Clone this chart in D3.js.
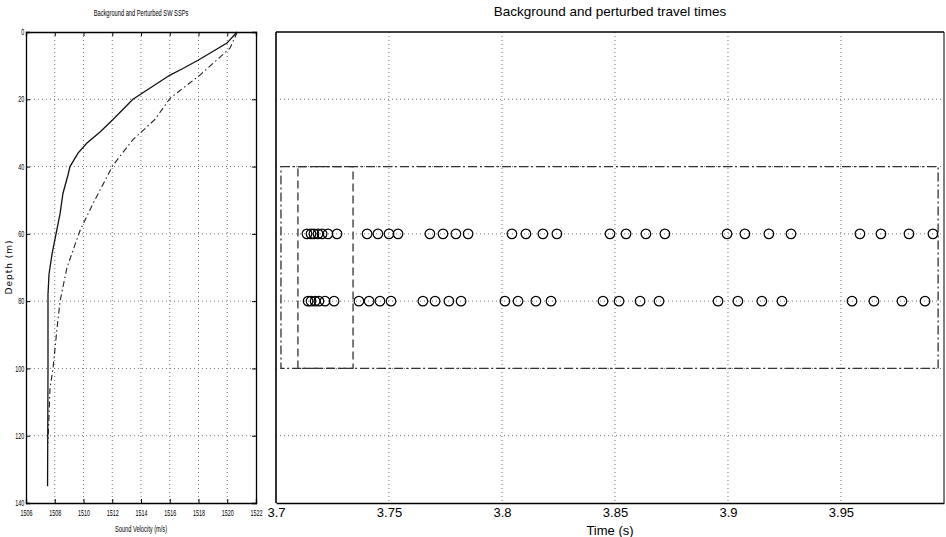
<!DOCTYPE html>
<html>
<head>
<meta charset="utf-8">
<script src="https://cdn.jsdelivr.net/npm/d3@7"></script>
<style>
body { margin: 0; background: #fff; }
svg { display: block; }
</style>
</head>
<body>
<script>
// sound speed profiles (depth m, velocity m/s)
const bgDepth = [0, 3.3, 8.4, 11, 12.8, 20, 26, 29.7, 33, 36, 40, 42.5, 48, 54, 60, 66, 72, 78, 100, 135];
const bgSpeed = [1520.68, 1519.98, 1517.97, 1516.85, 1516.02, 1513.44, 1512.05, 1511.15, 1510.24, 1509.62,
  1509.06, 1508.92, 1508.57, 1508.37, 1508.09, 1507.81, 1507.6, 1507.53, 1507.53, 1507.5];
const ptDepth = [0, 4.8, 12.8, 19.7, 26, 32, 39.6, 51, 59, 70, 80, 88, 100, 106, 122];
const ptSpeed = [1520.7, 1520.19, 1518.1, 1516.02, 1514.97, 1513.44, 1512.05, 1510.66, 1509.76, 1508.85,
  1508.37, 1508.16, 1507.88, 1507.67, 1507.53];

// travel times at the two receiver depths
const rxDepths = [60, 80];
const times60 = [3.7137, 3.7155, 3.7168, 3.7186, 3.7204, 3.7230, 3.7270,
  3.7403, 3.7451, 3.7500, 3.7540,
  3.7681, 3.7739, 3.7796, 3.7850,
  3.8044, 3.8106, 3.8181, 3.8243,
  3.8478, 3.8549, 3.8637, 3.8721,
  3.8996, 3.9075, 3.9181, 3.9279,
  3.9584, 3.9677, 3.9801, 3.9907];
const times80 = [3.7142, 3.7155, 3.7173, 3.7190, 3.7217, 3.7257,
  3.7367, 3.7412, 3.7460, 3.7509,
  3.7650, 3.7704, 3.7765, 3.7819,
  3.8013, 3.8071, 3.8150, 3.8217,
  3.8447, 3.8518, 3.8611, 3.8695,
  3.8956, 3.9044, 3.9150, 3.9239,
  3.9549, 3.9646, 3.9770, 3.9872];

// selection windows
const outerBox = {t: [3.7022, 3.993], z: [40, 100]};
const innerBox = {t: [3.7097, 3.7341], z: [40, 100]};

const velTicks = [1506, 1508, 1510, 1512, 1514, 1516, 1518, 1520, 1522];
const depthTicks = [0, 20, 40, 60, 80, 100, 120, 140];
const timeTicks = [3.7, 3.75, 3.8, 3.85, 3.9, 3.95];

const svg = d3.select("body").append("svg").attr("width", 946).attr("height", 537);

const xL = d3.scaleLinear().domain([1506, 1522]).range([26, 256]);
const yL = d3.scaleLinear().domain([0, 140]).range([32, 503]);
const xR = d3.scaleLinear().domain([3.7, 3.9956]).range([276, 944]);
const yR = d3.scaleLinear().domain([0, 140]).range([32, 503]);

const squeeze = "scale(0.6,1)";
const grid = "#777";

// ---------- left panel ----------
const L = svg.append("g");

L.selectAll(".vg").data(velTicks.slice(1, -1)).enter().append("line")
    .attr("x1", d => xL(d)).attr("x2", d => xL(d))
    .attr("y1", yL(0)).attr("y2", yL(140))
    .style("stroke", grid).style("stroke-width", 1).style("stroke-dasharray", "1,3");
L.selectAll(".hg").data(depthTicks.slice(1, -1)).enter().append("line")
    .attr("x1", xL(1506)).attr("x2", xL(1522))
    .attr("y1", d => yL(d)).attr("y2", d => yL(d))
    .style("stroke", grid).style("stroke-width", 1).style("stroke-dasharray", "1,3");

const line = d3.line().x(d => xL(d[1])).y(d => yL(d[0]));
L.append("path").datum(d3.zip(bgDepth, bgSpeed)).attr("d", line)
    .style("fill", "none").style("stroke", "#111").style("stroke-width", 1.3);
L.append("path").datum(d3.zip(ptDepth, ptSpeed)).attr("d", line)
    .style("fill", "none").style("stroke", "#222").style("stroke-width", 1.1)
    .style("stroke-dasharray", "6,3,1.5,3");

const axL = L.append("g").attr("transform", "translate(0," + yL(140) + ")")
    .call(d3.axisBottom(xL).tickValues(velTicks).tickSize(-4).tickPadding(7).tickFormat(d3.format("d")));
const ayL = L.append("g").attr("transform", "translate(" + xL(1506) + ",0)")
    .call(d3.axisLeft(yL).tickValues(depthTicks).tickSize(-4).tickPadding(3).tickFormat(d3.format("d")));
L.append("g").attr("transform", "translate(0," + yL(0) + ")")
    .call(d3.axisTop(xL).tickValues(velTicks).tickSize(-4).tickFormat(""));
L.append("g").attr("transform", "translate(" + xL(1522) + ",0)")
    .call(d3.axisRight(yL).tickValues(depthTicks).tickSize(-4).tickFormat(""));
[axL, ayL].forEach(a => a.selectAll("text")
    .style("font-family", "Liberation Sans, Arial, sans-serif").style("font-size", "9px")
    .style("fill", "#000").attr("transform", squeeze));
ayL.selectAll("text").attr("dy", "0.3em");
L.selectAll(".domain").style("stroke", "#000").style("stroke-width", 1.3);
L.selectAll(".tick line").style("stroke", "#000");

L.append("text").attr("transform", "translate(141,16) " + squeeze)
    .attr("text-anchor", "middle").style("font-family", "Liberation Sans, Arial, sans-serif")
    .style("font-size", "9.5px").text("Background and Perturbed SW SSPs");
L.append("text").attr("transform", "translate(141,532) " + squeeze)
    .attr("text-anchor", "middle").style("font-family", "Liberation Sans, Arial, sans-serif")
    .style("font-size", "9.5px").text("Sound Velocity (m/s)");
L.append("text").attr("transform", "translate(12,267) rotate(-90)")
    .attr("text-anchor", "middle").style("font-family", "DejaVu Sans, sans-serif")
    .style("font-size", "9px").style("letter-spacing", "1px").text("Depth (m)");

// ---------- right panel ----------
const R = svg.append("g");

R.selectAll(".vg").data(timeTicks.slice(1)).enter().append("line")
    .attr("x1", d => xR(d)).attr("x2", d => xR(d))
    .attr("y1", yR(0)).attr("y2", yR(140))
    .style("stroke", grid).style("stroke-width", 1).style("stroke-dasharray", "1,3");
R.selectAll(".hg").data(depthTicks.slice(1, -1)).enter().append("line")
    .attr("x1", xR(3.7)).attr("x2", xR(3.9956))
    .attr("y1", d => yR(d)).attr("y2", d => yR(d))
    .style("stroke", grid).style("stroke-width", 1).style("stroke-dasharray", "1,3");

function box(b, dash) {
  R.append("rect")
      .attr("x", xR(b.t[0])).attr("y", yR(b.z[0]))
      .attr("width", xR(b.t[1]) - xR(b.t[0])).attr("height", yR(b.z[1]) - yR(b.z[0]))
      .style("fill", "none").style("stroke", "#333").style("stroke-width", 1.3)
      .style("stroke-dasharray", dash);
}
box(outerBox, "9,3,2,3");
box(innerBox, "8,4");

const rows = [times60, times80];
rows.forEach((ts, i) => {
  R.selectAll(".c" + i).data(ts).enter().append("circle")
      .attr("cx", d => xR(d)).attr("cy", yR(rxDepths[i])).attr("r", 4.8)
      .style("fill", "none").style("stroke", "#000").style("stroke-width", 1.2);
});

const axR = R.append("g").attr("transform", "translate(0," + yR(140) + ")")
    .call(d3.axisBottom(xR).tickValues(timeTicks).tickSize(0).tickPadding(5).tickFormat(d => d));
R.append("line").attr("x1", xR(3.7)).attr("x2", xR(3.9956)).attr("y1", yR(0)).attr("y2", yR(0))
    .style("stroke", "#000").style("stroke-width", 1.3);
R.append("line").attr("x1", xR(3.7)).attr("x2", xR(3.7)).attr("y1", yR(0)).attr("y2", yR(140))
    .style("stroke", "#000").style("stroke-width", 1.6);
R.append("line").attr("x1", xR(3.9956)).attr("x2", xR(3.9956)).attr("y1", yR(0)).attr("y2", yR(140))
    .style("stroke", "#000").style("stroke-width", 1);
axR.select(".domain").style("stroke", "#000").style("stroke-width", 1.6);
axR.selectAll("text").style("font-family", "Liberation Sans, Arial, sans-serif")
    .style("font-size", "13px").style("fill", "#000");

R.append("text").attr("x", 610).attr("y", 16).attr("text-anchor", "middle")
    .style("font-family", "Liberation Sans, Arial, sans-serif").style("font-size", "13.5px")
    .text("Background and perturbed travel times");
R.append("text").attr("x", 610).attr("y", 535).attr("text-anchor", "middle")
    .style("font-family", "Liberation Sans, Arial, sans-serif").style("font-size", "13px")
    .text("Time (s)");
</script>
</body>
</html>
